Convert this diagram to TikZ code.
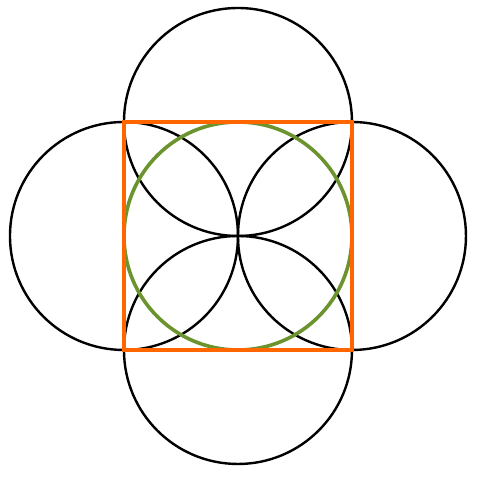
\documentclass[tikz,border=0pt]{standalone}
\usetikzlibrary{positioning}
\definecolor{leaf}{RGB}{107,148,46}
\definecolor{rust}{RGB}{255,102,0}

\begin{document}
\begin{tikzpicture}[
		x=1cm, y=1cm,
		petal/.style={draw=black, line width=1.2pt},
		inner/.style={draw=leaf, line width=1.8pt},
		frame/.style={draw=rust, line width=1.8pt},
	]
		\useasboundingbox (-4.175,-4.211) rectangle (4.211,4.14);
		\coordinate (c) at (0,0);
		\coordinate (nw) at (-2,2);
		\coordinate (se) at (2,-2);
		\foreach \name/\px/\py in {top/0/2, lft/-2/0, rgt/2/0, bot/0/-2}
			\coordinate (\name) at (\px,\py);
		
		\foreach \name in {top,lft,rgt,bot}
			\draw[petal] (\name) circle (2);
		\draw[inner] (c) circle (2);
		\draw[frame] (nw) rectangle (se);
	\end{tikzpicture}
\end{document}
